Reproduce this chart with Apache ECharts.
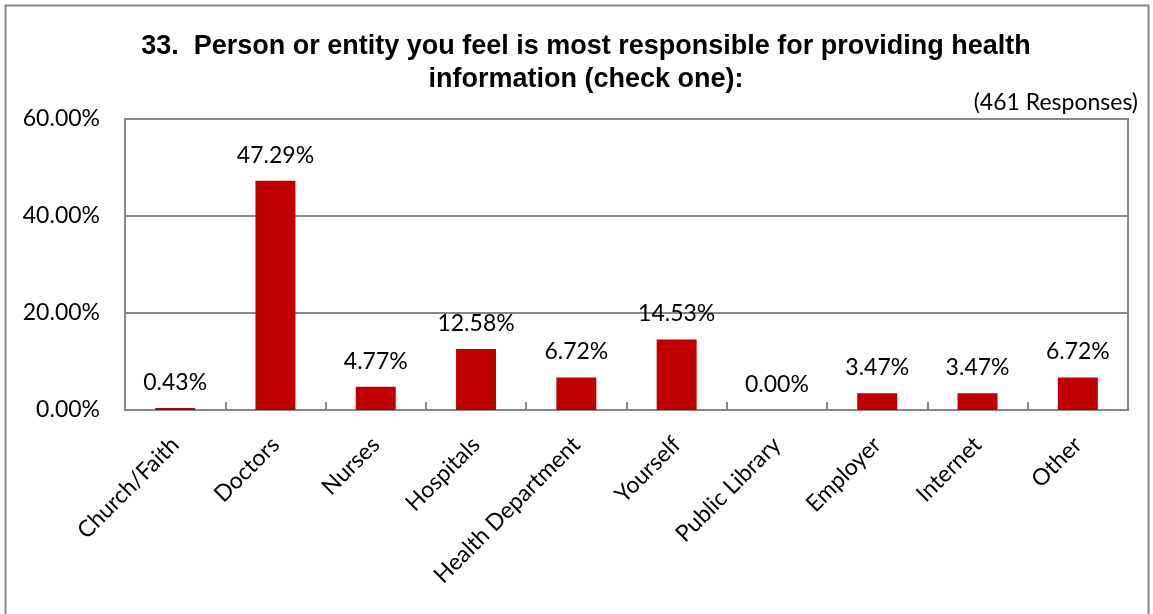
<!DOCTYPE html>
<html>
<head>
<meta charset="utf-8">
<script src="https://cdn.jsdelivr.net/npm/echarts@6/dist/echarts.min.js"></script>
<style>
  html, body { margin: 0; padding: 0; background: #fff; }
  #chart { width: 1153px; height: 614px; }
</style>
</head>
<body>
<div id="chart"></div>
<script>
// data
var categories = ['Church/Faith', 'Doctors', 'Nurses', 'Hospitals', 'Health Department',
                  'Yourself', 'Public Library', 'Employer', 'Internet', 'Other'];
var percents = [0.43, 47.29, 4.77, 12.58, 6.72, 14.53, 0.00, 3.47, 3.47, 6.72];
var yTicks = [0, 20, 40, 60];

var labelFont = 'Lato, "Open Sans", sans-serif';

var chart = echarts.init(document.getElementById('chart'));

var option = {
    animation: false,
    // outer frame
    graphic: [{
        type: 'rect',
        shape: { x: 5.5, y: 5.5, width: 1143, height: 640 },
        style: { fill: 'none', stroke: '#888', lineWidth: 2 },
        silent: true
    }],
    title: [{
        text: '33.  Person or entity you feel is most responsible for providing health\ninformation (check one):',
        left: 581,
        top: 25,
        textAlign: 'center',
        textStyle: {
            fontFamily: '"Liberation Sans", Arial, sans-serif',
            fontWeight: 'bold',
            fontSize: 27,
            lineHeight: 33,
            color: '#000'
        }
    }, {
        text: '(461 Responses)',
        right: 10,
        top: 86,
        textStyle: {
            fontFamily: labelFont,
            fontWeight: 'normal',
            fontSize: 23,
            color: '#000'
        }
    }],
    grid: {
        left: 125,
        right: 25,
        top: 119,
        bottom: 204,
        show: true,
        borderColor: '#888',
        borderWidth: 2
    },
    xAxis: {
        type: 'category',
        data: categories,
        axisLine: { show: true, lineStyle: { color: '#888', width: 2 } },
        axisTick: { show: true, inside: true, length: 8, lineStyle: { color: '#888', width: 2 } },
        axisLabel: {
            rotate: 45,
            interval: 0,
            margin: 31,
            fontFamily: labelFont,
            fontSize: 23,
            color: '#000'
        }
    },
    yAxis: {
        type: 'value',
        min: 0,
        max: 60,
        interval: 20,
        axisLine: { show: false },
        axisTick: { show: false },
        splitLine: { lineStyle: { color: '#888', width: 2 } },
        axisLabel: {
            margin: 25,
            fontFamily: labelFont,
            fontSize: 23,
            color: '#000',
            formatter: function (v) {
                return yTicks.indexOf(v) >= 0 ? v.toFixed(2) + '%' : '';
            }
        }
    },
    series: [{
        type: 'bar',
        data: percents,
        barWidth: 40,
        itemStyle: { color: '#C00000' },
        label: {
            show: true,
            position: 'top',
            distance: 14,
            fontFamily: labelFont,
            fontSize: 23,
            color: '#000',
            formatter: function (p) { return p.value.toFixed(2) + '%'; }
        }
    }]
};

chart.setOption(option);
</script>
</body>
</html>
